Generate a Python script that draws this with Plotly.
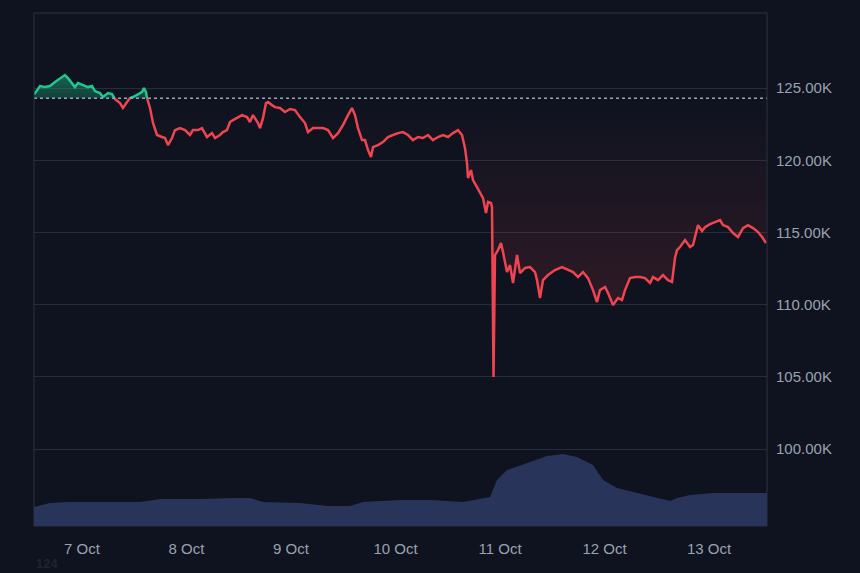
import pandas as pd
import plotly.graph_objects as go

START = pd.Timestamp("2025-10-07 00:00")
BASELINE = 124300

# price: hours from 7 Oct 00:00, value in thousands USD
price_hours = [
    -11.02, -9.65, -8.50, -7.35, -6.20, -5.51, -4.59, -3.90, -3.22, -2.30, -1.61, -0.92,
    0.23, 1.38, 2.30, 2.99, 4.13, 4.82, 5.97, 6.89, 7.58, 8.73, 9.42, 10.34, 11.02, 11.71,
    12.63, 13.78, 14.24, 14.70, 14.93, 15.62, 16.31, 17.23, 18.37, 19.06, 19.75, 20.67,
    21.36, 22.51, 23.66, 24.80, 25.49, 26.64, 27.56, 28.71, 29.86, 30.55, 31.69, 32.38,
    33.30, 33.99, 34.68, 35.83, 36.75, 37.90, 38.58, 39.27, 39.73, 40.42, 40.88, 41.57,
    42.26, 42.72, 43.64, 44.33, 45.47, 46.62, 47.77, 48.92, 50.07, 51.22, 51.91, 53.05,
    54.20, 55.35, 56.50, 57.65, 58.80, 59.94, 61.09, 62.01, 62.70, 63.39, 64.31, 65.00,
    65.69, 66.37, 66.83, 67.98, 69.13, 70.28, 71.43, 72.58, 73.72, 74.87, 76.02, 77.17,
    78.32, 79.47, 80.61, 81.76, 82.91, 84.06, 85.21, 86.36, 87.27, 87.96, 88.42, 88.65,
    89.34, 89.80, 90.72, 91.41, 92.10, 92.79, 93.25, 93.94, 94.16, 94.51, 94.85, 95.54,
    96.23, 96.69, 97.61, 98.30, 98.99, 99.91, 100.60, 101.74, 102.89, 104.04, 104.50,
    105.19, 105.88, 107.03, 108.63, 110.24, 111.62, 112.77, 113.92, 115.06, 116.21,
    117.36, 118.28, 118.97, 120.12, 120.81, 121.95, 123.10, 124.02, 124.71, 125.86,
    127.01, 128.16, 129.30, 130.45, 131.14, 132.29, 133.44, 134.59, 135.51, 136.19,
    136.65, 137.34, 138.49, 139.64, 140.33, 141.48, 142.40, 143.08, 144.23, 145.38,
    146.53, 147.22, 148.37, 149.52, 150.66, 151.81, 152.96, 154.11, 155.26, 156.18,
    157.09,
]
price_k = [
    124.55, 125.14, 125.07, 125.14, 125.42, 125.55, 125.76, 125.90, 125.69, 125.35, 125.07, 125.35,
    125.21, 125.07, 125.14, 124.79, 124.65, 124.38, 124.65, 124.58, 124.24, 123.96, 123.62, 124.03, 124.31, 124.38,
    124.52, 124.72, 125.00, 124.72, 124.31, 123.62, 122.58, 121.75, 121.61, 121.54, 121.05, 121.54,
    122.09, 122.23, 122.09, 121.75, 122.09, 122.09, 122.23, 121.61, 121.88, 121.54, 121.75, 121.95,
    122.09, 122.65, 122.78, 122.99, 123.13, 122.99, 122.65, 123.13, 122.92, 122.58, 122.23, 122.92,
    123.96, 124.03, 123.82, 123.68, 123.62, 123.34, 123.55, 123.48, 122.99, 122.58, 121.95, 122.23,
    122.23, 122.23, 122.09, 121.54, 121.88, 122.44, 123.13, 123.62, 123.13, 122.23, 121.40, 121.40,
    120.71, 120.22, 120.91, 121.05, 121.26, 121.61, 121.75, 121.88, 121.95, 121.75, 121.40, 121.61,
    121.54, 121.75, 121.40, 121.61, 121.75, 121.61, 121.88, 122.09, 121.75, 120.85, 119.81, 118.77,
    119.32, 118.63, 118.14, 117.80, 117.38, 116.34, 117.11, 117.04, 116.76, 104.99, 113.44, 113.78,
    114.27, 113.64, 112.26, 112.74, 111.50, 113.44, 112.19, 112.54, 112.60, 112.26, 111.70,
    110.46, 111.70, 112.05, 112.40, 112.60, 112.40, 112.26, 111.91, 112.26, 111.84,
    111.01, 110.18, 111.01, 111.22, 110.80, 109.97, 110.46, 110.32, 111.01, 111.84,
    111.91, 111.91, 111.84, 111.50, 111.91, 111.70, 112.05, 111.70, 111.57, 113.23,
    113.78, 113.99, 114.47, 113.99, 114.13, 115.51, 115.10, 115.37, 115.58, 115.72,
    115.86, 115.51, 115.37, 114.96, 114.68, 115.30, 115.51, 115.30, 115.03, 114.68,
    114.27,
]

# volume (arbitrary units, billions)
volume_hours = [
    -11.02, -7.35, -3.45, 4.13, 13.32, 17.91, 27.10, 34.68, 38.58, 41.57, 50.07, 56.27,
    61.55, 64.54, 73.03, 79.93, 87.50, 93.71, 95.31, 97.61, 102.89, 106.80, 110.47,
    113.69, 117.36, 119.66, 122.87, 127.47, 132.06, 135.05, 136.65, 139.64, 144.92,
    152.73, 157.32,
]
volume_b = [
    19, 23, 24, 24, 24, 27, 27, 28, 28, 24, 23, 20, 20, 24, 26, 26, 24, 29, 46, 56, 64,
    70, 72, 69, 61, 46, 38, 33, 28, 25, 28, 31, 33, 33, 33,
]

y_ticks = [100000, 105000, 110000, 115000, 120000, 125000]
y_tick_text = ["100.00K", "105.00K", "110.00K", "115.00K", "120.00K", "125.00K"]

X_RANGE_HOURS = [-11.02, 157.32]
Y_RANGE = [94670, 130200]
VOL_RANGE = [0, 513]

BG = "#0e131f"
GREEN = "#22c58b"
RED = "#ef4550"
GRID = "#262d3b"
LABEL = "#9aa2b1"


def ts(h):
    return START + pd.to_timedelta(h, unit="h")


# insert baseline crossings so the two colours meet exactly on the baseline
vals = [p * 1000 for p in price_k]
H, V = [], []
for i in range(len(vals)):
    if i > 0 and (vals[i - 1] - BASELINE) * (vals[i] - BASELINE) < 0:
        f = (BASELINE - vals[i - 1]) / (vals[i] - vals[i - 1])
        H.append(price_hours[i - 1] + (price_hours[i] - price_hours[i - 1]) * f)
        V.append(BASELINE)
    H.append(price_hours[i])
    V.append(vals[i])
T = [ts(h) for h in H]

up_line = [v if v >= BASELINE else None for v in V]
dn_line = [v if v <= BASELINE else None for v in V]
up_fill = [max(v, BASELINE) for v in V]
dn_fill = [min(v, BASELINE) for v in V]
base_y = [BASELINE] * len(V)

fig = go.Figure()

fig.add_trace(go.Scatter(x=[ts(h) for h in volume_hours], y=volume_b, yaxis="y2",
                         mode="lines", line=dict(width=0, color="rgba(0,0,0,0)"),
                         fill="tozeroy", fillcolor="#29345a", hoverinfo="skip"))

fig.add_trace(go.Scatter(x=T, y=base_y, mode="lines", line=dict(width=0), hoverinfo="skip"))
fig.add_trace(go.Scatter(x=T, y=up_fill, mode="lines", line=dict(width=0),
                         fill="tonexty",
                         fillgradient=dict(type="vertical",
                                           colorscale=[[0, "rgba(34,197,139,0.25)"],
                                                       [1, "rgba(34,197,139,0.45)"]]),
                         hoverinfo="skip"))
fig.add_trace(go.Scatter(x=T, y=base_y, mode="lines", line=dict(width=0), hoverinfo="skip"))
fig.add_trace(go.Scatter(x=T, y=dn_fill, mode="lines", line=dict(width=0),
                         fill="tonexty",
                         fillgradient=dict(type="vertical", start=108000, stop=BASELINE,
                                           colorscale=[[0, "rgba(239,69,80,0.16)"],
                                                       [1, "rgba(239,69,80,0.0)"]]),
                         hoverinfo="skip"))

fig.add_trace(go.Scatter(x=T, y=up_line, mode="lines", line=dict(color=GREEN, width=2.5),
                         connectgaps=False))
fig.add_trace(go.Scatter(x=T, y=dn_line, mode="lines", line=dict(color=RED, width=2.5),
                         connectgaps=False))

x0, x1 = ts(X_RANGE_HOURS[0]), ts(X_RANGE_HOURS[1])
fig.add_shape(type="line", xref="x", yref="y", x0=x0, x1=x1, y0=BASELINE, y1=BASELINE,
              line=dict(color="#9aa4b4", width=1.5, dash="dot"), layer="above")
fig.add_shape(type="rect", xref="paper", yref="paper", x0=0, x1=1, y0=0, y1=1,
              line=dict(color="#2c3342", width=1), layer="above")

fig.add_annotation(text="<b>124</b>", xref="paper", yref="paper", x=0.0, y=-0.092,
                   xanchor="left", yanchor="bottom", showarrow=False,
                   font=dict(size=13, color="#1e2430"))

fig.update_layout(
    width=860, height=573,
    margin=dict(l=34, r=93, t=13, b=47),
    paper_bgcolor=BG, plot_bgcolor=BG,
    showlegend=False,
    font=dict(family="Liberation Sans, Arial, sans-serif", size=15, color=LABEL),
    xaxis=dict(type="date", range=[x0, x1], showgrid=False, zeroline=False,
               tickformat="%-d %b", dtick=86400000, ticks="", ticklabelstandoff=12,
               tickfont=dict(size=15, color=LABEL), showline=False),
    yaxis=dict(range=Y_RANGE, side="right", tickvals=y_ticks, ticktext=y_tick_text,
               showgrid=True, gridcolor=GRID, gridwidth=1, zeroline=False, ticks="",
               ticklabelstandoff=8, tickfont=dict(size=15, color=LABEL)),
    yaxis2=dict(range=VOL_RANGE, overlaying="y", visible=False),
)

fig.write_html("out.html", config={"displayModeBar": False},
               post_script="document.body.style.margin='0';")
